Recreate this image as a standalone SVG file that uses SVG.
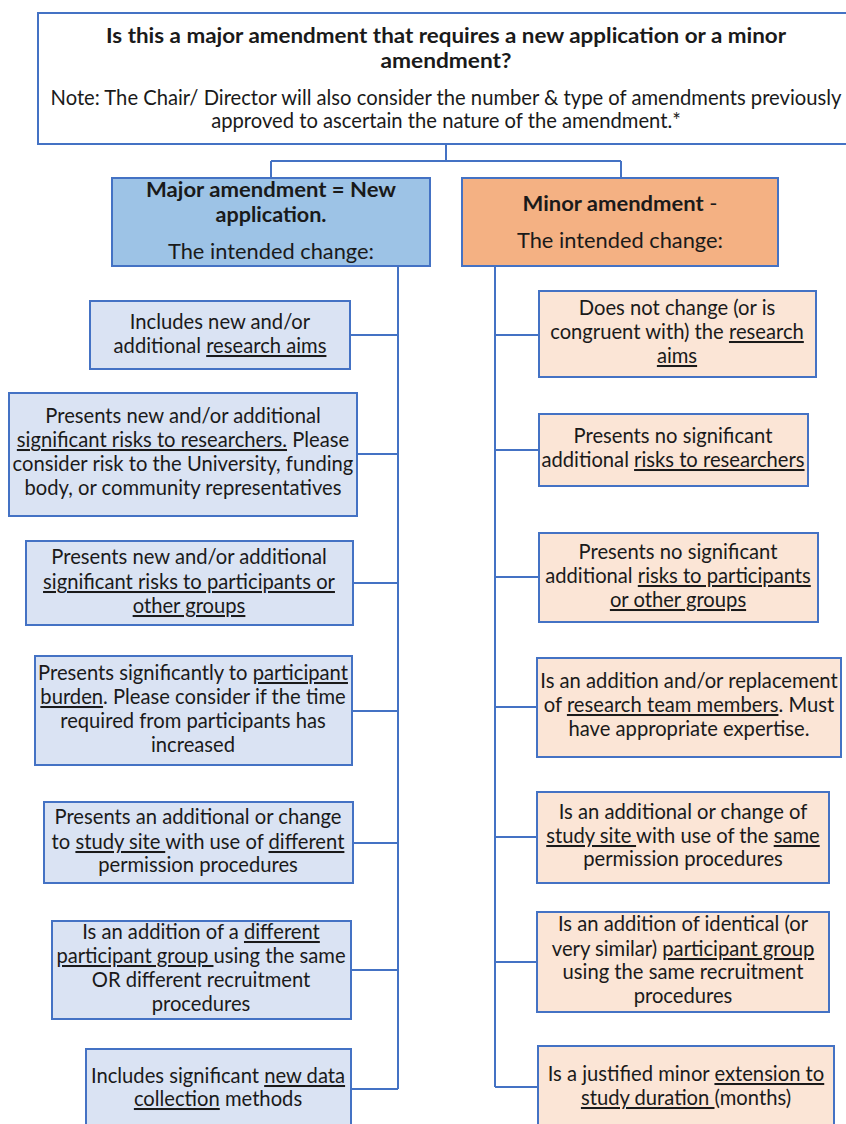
<svg xmlns="http://www.w3.org/2000/svg" width="846" height="1124" viewBox="0 0 846 1124">
  <style>
    .t { font-family: Lato, "Liberation Sans", sans-serif; font-size: 20.2px; fill: #1a1a1a; text-anchor: middle; }
    .b { font-weight: bold; }
    .u { text-decoration: underline; }
    .top { fill: #ffffff; stroke: #4472C4; stroke-width: 2; }
    .major { fill: #9DC3E6; stroke: #4472C4; stroke-width: 2; }
    .minor { fill: #F4B183; stroke: #4472C4; stroke-width: 2; }
    .blue { fill: #DAE3F3; stroke: #4472C4; stroke-width: 2; }
    .peach { fill: #FBE5D6; stroke: #4472C4; stroke-width: 2; }
    .conn { stroke: #4472C4; stroke-width: 2; fill: none; }
  </style>

  <!-- connectors -->
  <g id="connectors" class="conn">
    <path d="M446 144 V161 M271 161 H621 M271 161 V178 M621 161 V178"/>
    <!-- major trunk and branches -->
    <path d="M398 266 V1089"/>
    <path d="M350 335 H398 M357 454 H398 M353 583 H398 M352 711 H398 M353 843 H398 M351 970 H398 M351 1089 H398"/>
    <!-- minor trunk and branches -->
    <path d="M495 266 V1087"/>
    <path d="M495 335 H539 M495 450 H539 M495 577 H539 M495 707 H537 M495 837 H537 M495 962 H537 M495 1087 H538"/>
  </g>

  <!-- question -->
  <g id="question">
    <rect class="top" x="38" y="13" width="820" height="131"/>
    <text class="t b" x="446" y="43" font-size="20px" textLength="680" lengthAdjust="spacingAndGlyphs">Is this a major amendment that requires a new application  or a minor</text>
    <text class="t b" x="446" y="68" font-size="20px" textLength="131" lengthAdjust="spacingAndGlyphs">amendment?</text>
    <text class="t" x="446" y="105" font-size="19.6px">Note: The Chair/ Director will also consider the number &amp; type of amendments previously</text>
    <text class="t" x="446" y="128" font-size="19.6px">approved to ascertain the nature of the amendment.*</text>
  </g>

  <!-- major amendment header -->
  <g id="major">
    <rect class="major" x="112" y="178" width="318" height="88"/>
    <text class="t b" x="271" y="197" font-size="21px" textLength="250" lengthAdjust="spacingAndGlyphs">Major amendment = New</text>
    <text class="t b" x="271" y="222" font-size="21px" textLength="111" lengthAdjust="spacingAndGlyphs">application.</text>
    <text class="t" x="271" y="259" font-size="22px" textLength="206" lengthAdjust="spacingAndGlyphs">The intended change:</text>
  </g>

  <!-- minor amendment header -->
  <g id="minor">
    <rect class="minor" x="462" y="178" width="316" height="88"/>
    <text class="t" x="620" y="211" font-size="21px" textLength="195" lengthAdjust="spacingAndGlyphs"><tspan class="b">Minor amendment</tspan> -</text>
    <text class="t" x="620" y="248" font-size="22px" textLength="206" lengthAdjust="spacingAndGlyphs">The intended change:</text>
  </g>

  <!-- major criteria -->
  <g id="major-aims">
    <rect class="blue" x="90" y="301" width="260" height="68"/>
    <text class="t" x="220" y="329">Includes new and/or</text>
    <text class="t" x="220" y="353">additional <tspan class="u">research aims</tspan></text>
  </g>
  <g id="major-researcher-risk">
    <rect class="blue" x="9" y="393" width="348" height="123"/>
    <text class="t" x="183" y="423">Presents new and/or additional</text>
    <text class="t" x="183" y="447"><tspan class="u">significant risks to researchers.</tspan> Please</text>
    <text class="t" x="183" y="471">consider risk to the University, funding</text>
    <text class="t" x="183" y="495">body, or community representatives</text>
  </g>
  <g id="major-participant-risk">
    <rect class="blue" x="26" y="541" width="327" height="84"/>
    <text class="t" x="189" y="564">Presents new and/or additional</text>
    <text class="t" x="189" y="589"><tspan class="u">significant risks to participants or</tspan></text>
    <text class="t" x="189" y="613"><tspan class="u">other groups</tspan></text>
  </g>
  <g id="major-burden">
    <rect class="blue" x="35" y="656" width="317" height="109"/>
    <text class="t" x="193" y="680">Presents significantly to <tspan class="u">participant</tspan></text>
    <text class="t" x="193" y="704"><tspan class="u">burden</tspan>. Please consider if the time</text>
    <text class="t" x="193" y="728">required from participants has</text>
    <text class="t" x="193" y="752">increased</text>
  </g>
  <g id="major-site">
    <rect class="blue" x="44" y="802" width="309" height="81"/>
    <text class="t" x="198" y="824">Presents an additional or change</text>
    <text class="t" x="198" y="849">to <tspan class="u">study site </tspan>with use of <tspan class="u">different</tspan></text>
    <text class="t" x="198" y="872">permission procedures</text>
  </g>
  <g id="major-group">
    <rect class="blue" x="52" y="921" width="299" height="98"/>
    <text class="t" x="201" y="939">Is an addition of a <tspan class="u">different</tspan></text>
    <text class="t" x="201" y="963"><tspan class="u">participant group </tspan>using the same</text>
    <text class="t" x="201" y="987">OR different recruitment</text>
    <text class="t" x="201" y="1011">procedures</text>
  </g>
  <g id="major-data">
    <rect class="blue" x="86" y="1049" width="265" height="90"/>
    <text class="t" x="218" y="1083">Includes significant <tspan class="u">new data</tspan></text>
    <text class="t" x="218" y="1106"><tspan class="u">collection</tspan> methods</text>
  </g>

  <!-- minor criteria -->
  <g id="minor-aims">
    <rect class="peach" x="539" y="291" width="277" height="86"/>
    <text class="t" x="677" y="315">Does not change (or is</text>
    <text class="t" x="677" y="339">congruent with) the <tspan class="u">research</tspan></text>
    <text class="t" x="677" y="363"><tspan class="u">aims</tspan></text>
  </g>
  <g id="minor-researcher-risk">
    <rect class="peach" x="539" y="414" width="269" height="72"/>
    <text class="t" x="673" y="443">Presents no significant</text>
    <text class="t" x="673" y="467">additional <tspan class="u">risks to researchers</tspan></text>
  </g>
  <g id="minor-participant-risk">
    <rect class="peach" x="539" y="533" width="279" height="89"/>
    <text class="t" x="678" y="559">Presents no significant</text>
    <text class="t" x="678" y="583">additional <tspan class="u">risks to participants</tspan></text>
    <text class="t" x="678" y="607"><tspan class="u">or other groups</tspan></text>
  </g>
  <g id="minor-team">
    <rect class="peach" x="537" y="658" width="304" height="99"/>
    <text class="t" x="689" y="688">Is an addition and/or replacement</text>
    <text class="t" x="689" y="712">of <tspan class="u">research team members</tspan>. Must</text>
    <text class="t" x="689" y="736">have appropriate expertise.</text>
  </g>
  <g id="minor-site">
    <rect class="peach" x="537" y="792" width="292" height="91"/>
    <text class="t" x="683" y="819">Is an additional or change of</text>
    <text class="t" x="683" y="843"><tspan class="u">study site </tspan>with use of the <tspan class="u">same</tspan></text>
    <text class="t" x="683" y="866">permission procedures</text>
  </g>
  <g id="minor-group">
    <rect class="peach" x="537" y="912" width="292" height="100"/>
    <text class="t" x="683" y="931">Is an addition of identical (or</text>
    <text class="t" x="683" y="956">very similar) <tspan class="u">participant group</tspan></text>
    <text class="t" x="683" y="979">using the same recruitment</text>
    <text class="t" x="683" y="1003">procedures</text>
  </g>
  <g id="minor-duration">
    <rect class="peach" x="538" y="1046" width="296" height="90"/>
    <text class="t" x="686" y="1081">Is a justified minor <tspan class="u">extension to</tspan></text>
    <text class="t" x="686" y="1105"><tspan class="u">study duration </tspan>(months)</text>
  </g>
</svg>
